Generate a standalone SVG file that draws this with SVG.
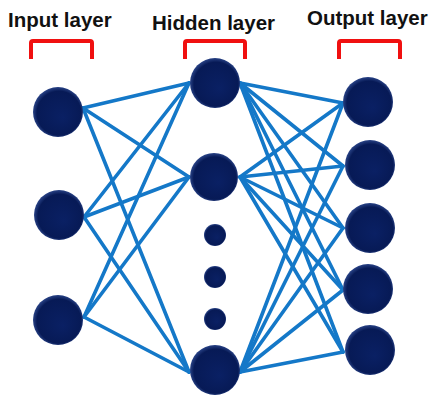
<svg xmlns="http://www.w3.org/2000/svg" width="431" height="396" viewBox="0 0 431 396">
<defs>
<radialGradient id="ball" cx="0.5" cy="0.5" r="0.55" fx="0.6" fy="0.62">
<stop offset="0" stop-color="#0a2064"/>
<stop offset="0.8" stop-color="#071a56"/>
<stop offset="0.93" stop-color="#2a4488"/>
<stop offset="1" stop-color="#0a1a50"/>
</radialGradient>
<style>
.t{font-family:"Liberation Sans",Arial,sans-serif;font-weight:bold;font-size:20.5px;fill:#111}
.br{fill:none;stroke:#f01010;stroke-width:4;stroke-linejoin:round}
.c line{stroke:#1478c8;stroke-width:3.6;stroke-linecap:round}
.n{fill:url(#ball)}
</style>
</defs>
<rect width="431" height="396" fill="#fff"/>
<g id="labels">
<text class="t" x="8" y="27">Input layer</text>
<text class="t" x="152" y="30">Hidden layer</text>
<text class="t" x="307" y="25">Output layer</text>
</g>
<g id="brackets">
<path class="br" d="M31 59 V43 Q31 41 33 41 H90 Q92 41 92 43 V59"/>
<path class="br" d="M185 59 V43 Q185 41 187 41 H243 Q245 41 245 43 V59"/>
<path class="br" d="M339 59 V43 Q339 41 341 41 H398 Q400 41 400 43 V59"/>
</g>
<g id="connectors" class="c">
<line x1="83" y1="108" x2="189" y2="83"/>
<line x1="83" y1="108" x2="189" y2="177"/>
<line x1="83" y1="108" x2="189" y2="372"/>
<line x1="84" y1="217" x2="189" y2="83"/>
<line x1="84" y1="217" x2="189" y2="177"/>
<line x1="84" y1="217" x2="189" y2="372"/>
<line x1="84" y1="317" x2="189" y2="83"/>
<line x1="84" y1="317" x2="189" y2="177"/>
<line x1="84" y1="317" x2="189" y2="372"/>
<line x1="240" y1="83" x2="343" y2="103"/>
<line x1="240" y1="83" x2="343" y2="166"/>
<line x1="240" y1="83" x2="343" y2="228"/>
<line x1="240" y1="83" x2="343" y2="290"/>
<line x1="240" y1="83" x2="343" y2="352"/>
<line x1="240" y1="177" x2="343" y2="103"/>
<line x1="240" y1="177" x2="343" y2="166"/>
<line x1="240" y1="177" x2="343" y2="228"/>
<line x1="240" y1="177" x2="343" y2="290"/>
<line x1="240" y1="177" x2="343" y2="352"/>
<line x1="240" y1="372" x2="343" y2="103"/>
<line x1="240" y1="372" x2="343" y2="166"/>
<line x1="240" y1="372" x2="343" y2="228"/>
<line x1="240" y1="372" x2="343" y2="290"/>
<line x1="240" y1="372" x2="343" y2="352"/>
</g>
<g id="in1"><circle class="n" cx="58" cy="112" r="25"/></g>
<g id="in2"><circle class="n" cx="59" cy="215" r="25"/></g>
<g id="in3"><circle class="n" cx="58" cy="320" r="25"/></g>
<g id="h1"><circle class="n" cx="215" cy="83" r="25"/></g>
<g id="h2"><circle class="n" cx="214" cy="177" r="24"/></g>
<g id="dot1"><circle class="n" cx="215" cy="235" r="11"/></g>
<g id="dot2"><circle class="n" cx="215" cy="277" r="11"/></g>
<g id="dot3"><circle class="n" cx="215" cy="319" r="11"/></g>
<g id="h3"><circle class="n" cx="215" cy="370" r="25"/></g>
<g id="out1"><circle class="n" cx="368" cy="102" r="25"/></g>
<g id="out2"><circle class="n" cx="370" cy="165" r="25"/></g>
<g id="out3"><circle class="n" cx="370" cy="228" r="25"/></g>
<g id="out4"><circle class="n" cx="368" cy="289" r="25"/></g>
<g id="out5"><circle class="n" cx="370" cy="350" r="25"/></g>
</svg>
